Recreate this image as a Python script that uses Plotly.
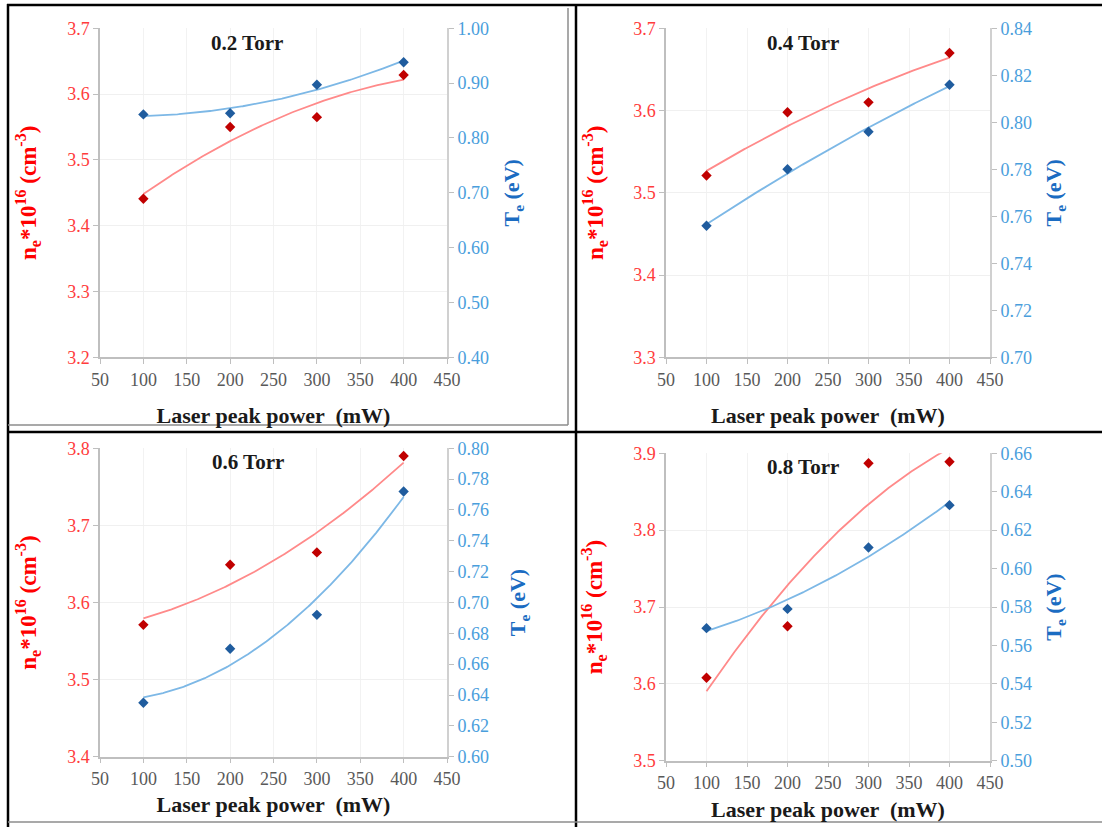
import numpy as np
import plotly.graph_objects as go

# ---------------- data ----------------
power = [100, 200, 300, 400]
pressure_labels = ["0.2 Torr", "0.4 Torr", "0.6 Torr", "0.8 Torr"]

ne_02 = [3.441, 3.550, 3.565, 3.629]
te_02 = [0.843, 0.845, 0.897, 0.938]
ne_04 = [3.521, 3.598, 3.610, 3.670]
te_04 = [0.756, 0.780, 0.796, 0.816]
ne_06 = [3.571, 3.649, 3.665, 3.790]
te_06 = [0.635, 0.670, 0.692, 0.772]
ne_08 = [3.608, 3.675, 3.887, 3.889]
te_08 = [0.569, 0.579, 0.611, 0.633]

ne_ranges = [[3.2, 3.7], [3.3, 3.7], [3.4, 3.8], [3.5, 3.9]]
te_ranges = [[0.40, 1.00], [0.70, 0.84], [0.60, 0.80], [0.50, 0.66]]
te_dticks = [0.10, 0.02, 0.02, 0.02]
x_range = [50, 450]

ne_all = [ne_02, ne_04, ne_06, ne_08]
te_all = [te_02, te_04, te_06, te_08]

# ---------------- layout geometry (pixels) ----------------
W, H = 1102, 827
FONT = "Liberation Serif, Times New Roman, serif"
# plot area boxes: (x0, x1, ytop, ybottom)
boxes = [(100, 447, 28.3, 357.3),
         (666, 990, 28.3, 357.3),
         (100, 447, 448.3, 756.7),
         (666, 990, 453.3, 760.7)]
title_pos = [(247, 43), (803, 43), (248, 462), (803, 467)]
xtitle_standoff = [19, 19, 9, 10]
left_standoff = [24, 23, 24, 24]
right_standoff = [16, 15, 22, 15]

RED_PT = "#C00000"
BLUE_PT = "#1F5C9E"
RED_LN = "#FF8A8A"
BLUE_LN = "#7DB8E6"
RED_TXT = "#FF3C3C"
BLUE_TICK = "#4A9EDC"
BLUE_TTL = "#1B6CC2"
GRAY = "#595959"

fig = go.Figure()
layout = dict(width=W, height=H, margin=dict(l=0, r=0, t=0, b=0),
              plot_bgcolor="white", paper_bgcolor="white",
              showlegend=False, font=dict(family=FONT))

xfine = np.linspace(power[0], power[-1], 200)

annotations = []
for i in range(4):
    x0, x1, yt, yb = boxes[i]
    xid = i + 1
    yl = 2 * i + 1
    yr = 2 * i + 2
    xname = "xaxis" if xid == 1 else f"xaxis{xid}"
    ylname = "yaxis" if yl == 1 else f"yaxis{yl}"
    yrname = f"yaxis{yr}"
    xref = "x" if xid == 1 else f"x{xid}"
    ylref = "y" if yl == 1 else f"y{yl}"
    yrref = f"y{yr}"

    xdom = [x0 / W, x1 / W]
    ydom = [1 - yb / H, 1 - yt / H]

    layout[xname] = dict(
        domain=xdom, anchor=ylref, range=x_range, dtick=50, tick0=50,
        showline=True, linecolor="#BFBFBF", linewidth=1.5,
        ticks="outside", ticklen=5, tickcolor="#BFBFBF",
        showgrid=True, gridcolor="#F2F2F2", zeroline=False,
        tickfont=dict(family=FONT, size=18, color=GRAY),
        title=dict(text="<b>Laser peak power  (mW)</b>",
                   font=dict(family=FONT, size=22, color="#1a1a1a"),
                   standoff=xtitle_standoff[i]),
        automargin=False)
    layout[ylname] = dict(
        domain=ydom, anchor=xref, range=ne_ranges[i], dtick=0.1,
        tickformat=".1f",
        showline=True, linecolor="#BFBFBF", linewidth=1.5,
        ticks="outside", ticklen=5, tickcolor="#BFBFBF",
        showgrid=True, gridcolor="#F0F0F0", zeroline=False,
        tickfont=dict(family=FONT, size=18, color=RED_TXT),
        title=dict(text="<b>n<sub>e</sub>*10<sup>16</sup> (cm<sup>-3</sup>)</b>",
                   font=dict(family=FONT, size=23, color="#FF0000"),
                   standoff=left_standoff[i]),
        automargin=False)
    layout[yrname] = dict(
        domain=ydom, anchor=xref, overlaying=ylref, side="right",
        range=te_ranges[i], dtick=te_dticks[i], tickformat=".2f",
        showline=True, linecolor="#D0D0D0", linewidth=2,
        ticks="outside", ticklen=5, tickcolor="#BFBFBF",
        showgrid=False, zeroline=False,
        tickfont=dict(family=FONT, size=18, color=BLUE_TICK),
        title=dict(text="<b>T<sub>e</sub> (eV)</b>",
                   font=dict(family=FONT, size=22, color=BLUE_TTL),
                   standoff=right_standoff[i]),
        automargin=False)

    # trendlines (2nd order polynomial fits, as in the original)
    cn = np.polyfit(power, ne_all[i], 2)
    ct = np.polyfit(power, te_all[i], 2)
    fig.add_trace(go.Scatter(x=xfine, y=np.polyval(cn, xfine), mode="lines",
                             line=dict(color=RED_LN, width=1.8),
                             xaxis=xref, yaxis=ylref, hoverinfo="skip"))
    fig.add_trace(go.Scatter(x=xfine, y=np.polyval(ct, xfine), mode="lines",
                             line=dict(color=BLUE_LN, width=1.8),
                             xaxis=xref, yaxis=yrref, hoverinfo="skip"))
    fig.add_trace(go.Scatter(x=power, y=ne_all[i], mode="markers",
                             marker=dict(symbol="diamond", size=8, color=RED_PT),
                             xaxis=xref, yaxis=ylref, name="ne"))
    fig.add_trace(go.Scatter(x=power, y=te_all[i], mode="markers",
                             marker=dict(symbol="diamond", size=8, color=BLUE_PT),
                             xaxis=xref, yaxis=yrref, name="Te"))

    tx, ty = title_pos[i]
    annotations.append(dict(text=f"<b>{pressure_labels[i]}</b>",
                            xref="paper", yref="paper",
                            x=tx / W, y=1 - ty / H, showarrow=False,
                            xanchor="center", yanchor="middle",
                            font=dict(family=FONT, size=21, color="#1a1a1a")))

layout["annotations"] = annotations


def hline(y, xa, xb, color, w):
    return dict(type="line", xref="paper", yref="paper",
                x0=xa / W, x1=xb / W, y0=1 - y / H, y1=1 - y / H,
                line=dict(color=color, width=w))


def vline(x, ya, yb, color, w):
    return dict(type="line", xref="paper", yref="paper",
                x0=x / W, x1=x / W, y0=1 - ya / H, y1=1 - yb / H,
                line=dict(color=color, width=w))


shapes = [
    hline(5, 7, 1102, "black", 2.5),
    vline(8, 4, 827, "black", 2.5),
    vline(576, 4, 827, "black", 2.5),
    hline(432, 7, 1102, "black", 2.5),
    vline(568, 8, 425, "#8C8C8C", 1.5),
    hline(425, 8, 568, "#8C8C8C", 1.5),
    hline(822, 8, 1102, "#8C8C8C", 1.5),
]
layout["shapes"] = shapes

fig.update_layout(**layout)
fig.write_html("out.html", config={"displayModeBar": False},
               post_script="document.body.style.margin='0px';document.body.style.overflow='hidden';")
